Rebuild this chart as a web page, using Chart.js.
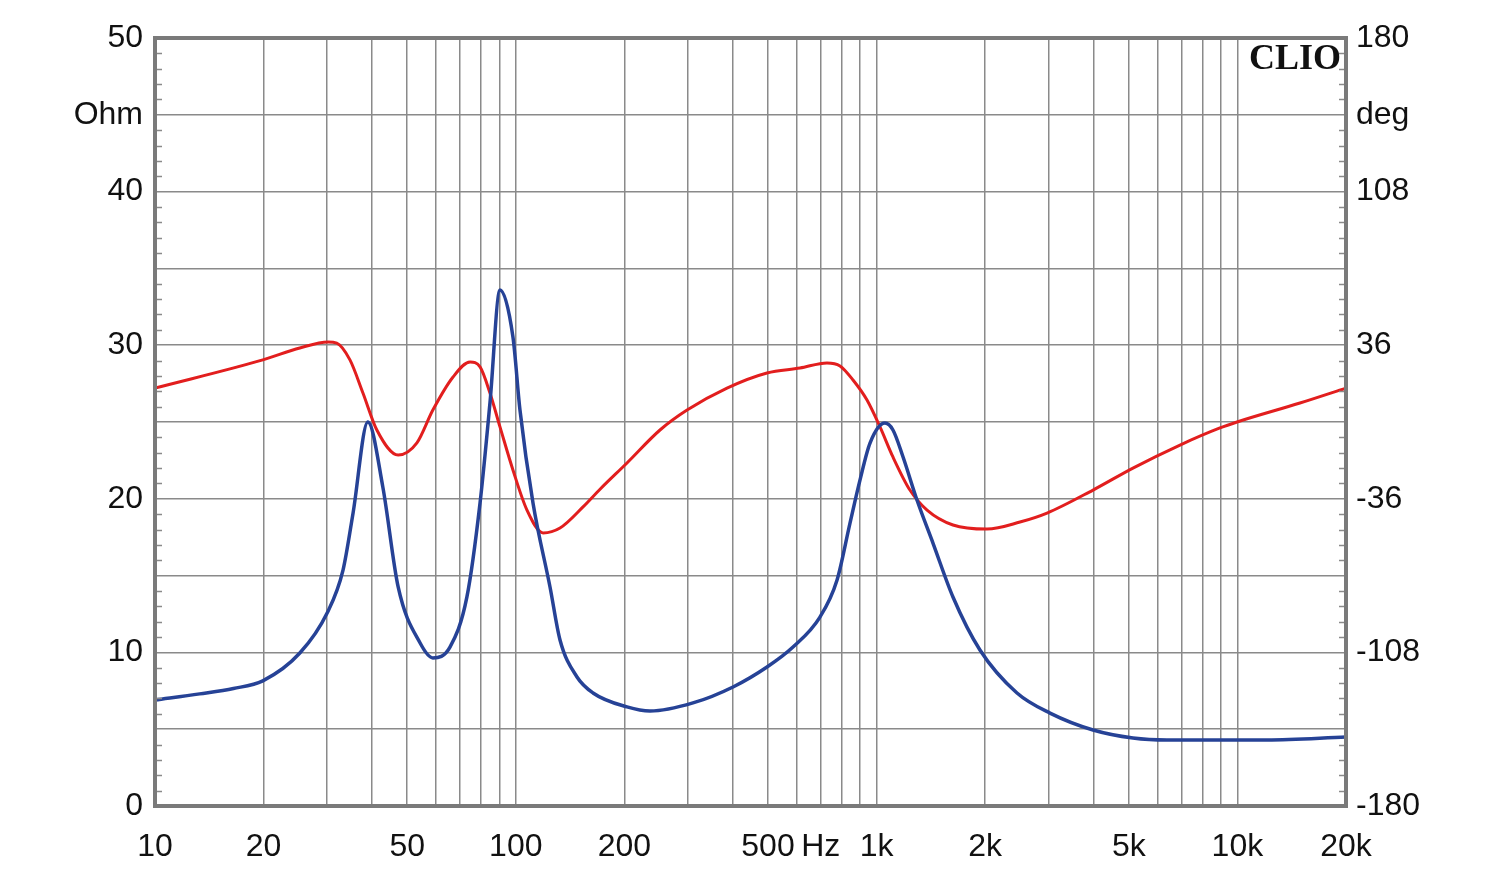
<!DOCTYPE html>
<html>
<head>
<meta charset="utf-8">
<script src="https://cdn.jsdelivr.net/npm/chart.js@4/dist/chart.umd.min.js"></script>
<style>
  html, body { margin: 0; padding: 0; background: #fff; }
  #wrap { width: 1500px; height: 886px; }
</style>
</head>
<body>
<div id="wrap"><canvas id="clio"></canvas></div>
<script>
// impedance curve (Hz, Ohm)
var impFreq = [10, 13.3, 16.5, 19.9, 25.2, 30.0, 33.2, 35.4, 38.9, 42.8, 47.2, 54.3, 58.9, 65.7, 73.2, 79.6, 84.8, 90.4, 98.2, 102.7, 111.6, 124.4, 132.6, 147.8, 163.7, 203.3, 235.5, 309.8, 400, 496.9, 586.6, 696.7, 776.6, 843.9, 899.4, 958.9, 1055, 1110, 1184, 1294, 1433, 1628, 1934, 2450, 3024, 3980, 5135, 6380, 12080, 20000];
var impOhm  = [6.90, 7.30, 7.65, 8.15, 9.96, 12.57, 15.36, 19.08, 25.0, 20.77, 14.26, 10.61, 9.64, 10.35, 13.61, 19.73, 26.24, 33.59, 30.53, 25.78, 19.73, 14.26, 10.81, 8.40, 7.36, 6.45, 6.18, 6.71, 7.75, 9.05, 10.35, 12.30, 14.70, 18.42, 21.22, 23.63, 24.93, 24.48, 22.72, 19.92, 17.12, 13.61, 10.16, 7.36, 6.05, 4.95, 4.43, 4.30, 4.30, 4.49];

// phase curve (Hz, deg)
var phFreq = [10, 19.9, 25.2, 30.2, 31.9, 34.7, 37.7, 41.2, 47.2, 53.2, 58.9, 67.0, 74.7, 79.6, 84.8, 90.4, 98.2, 107.4, 119, 132.6, 153.6, 171.2, 203.3, 251, 298.3, 384.9, 496.9, 613.4, 728.6, 791.7, 860.3, 940.6, 1022, 1110, 1237, 1380, 1628, 2023, 2497, 2967, 3980, 5135, 6933, 8948, 9977, 14910, 20000];
var phDeg  = [15.9, 29.1, 34.7, 37.5, 37.0, 29.1, 13.6, -3.75, -15.5, -9.8, 5.6, 21.1, 28.1, 25.8, 13.6, -2.3, -22.5, -41.3, -52.0, -49.7, -39.8, -31.5, -19.2, -3.75, 5.6, 15.9, 23.0, 25.3, 27.7, 26.3, 19.7, 10.3, -2.3, -16.4, -31.9, -41.3, -48.3, -50.2, -46.9, -42.7, -31.9, -21.6, -10.8, -2.8, 0.0, 8.9, 15.9];

// axis ticks
var gridFreqs = [10, 20, 30, 40, 50, 60, 70, 80, 90, 100, 200, 300, 400, 500, 600, 700, 800, 900, 1000, 2000, 3000, 4000, 5000, 6000, 7000, 8000, 9000, 10000, 20000];
var freqLabelAt = [10, 20, 50, 100, 200, 500, 700, 1000, 2000, 5000, 10000, 20000];
var freqLabelText = ['10', '20', '50', '100', '200', '500', 'Hz', '1k', '2k', '5k', '10k', '20k'];
var ohmLabelAt = [0, 10, 20, 30, 40, 45, 50];
var ohmLabelText = ['0', '10', '20', '30', '40', 'Ohm', '50'];
var degLabelAt = [-180, -108, -36, 36, 108, 144, 180];
var degLabelText = ['-180', '-108', '-36', '36', '108', 'deg', '180'];

function pairs(xs, ys) {
  return xs.map(function (x, i) { return { x: x, y: ys[i] }; });
}
function lookup(at, text, v) {
  for (var i = 0; i < at.length; i++) {
    if (Math.abs(at[i] - v) < 1e-6) return text[i];
  }
  return '';
}

var gridColor = '#8a8a8a';
var tickFont = { family: '"Liberation Sans", Arial, sans-serif', size: 32 };

var framePlugin = {
  id: 'frame',
  afterDraw: function (chart) {
    var ctx = chart.ctx, a = chart.chartArea, y = chart.scales.y;
    ctx.save();
    ctx.strokeStyle = gridColor;
    ctx.lineWidth = 1.5;
    for (var v = 1; v < 50; v++) {
      if (v % 5 === 0) continue;
      var py = Math.round(y.getPixelForValue(v)) + 0.5;
      ctx.beginPath();
      ctx.moveTo(a.left, py); ctx.lineTo(a.left + 7, py);
      ctx.moveTo(a.right - 7, py); ctx.lineTo(a.right, py);
      ctx.stroke();
    }
    ctx.strokeStyle = '#7a7a7a';
    ctx.lineWidth = 4;
    ctx.strokeRect(a.left, a.top, a.right - a.left, a.bottom - a.top);
    ctx.fillStyle = '#111';
    ctx.font = 'bold 36px "Liberation Serif", "DejaVu Serif", serif';
    ctx.textAlign = 'right';
    ctx.textBaseline = 'alphabetic';
    ctx.fillText('CLIO', a.right - 5, a.top + 31);
    ctx.restore();
  }
};

new Chart(document.getElementById('clio'), {
  type: 'scatter',
  data: {
    datasets: [
      {
        label: 'Impedance',
        data: pairs(impFreq, impOhm),
        yAxisID: 'y',
        showLine: true,
        borderColor: 'rgb(38, 66, 150)',
        borderWidth: 3.5,
        pointRadius: 0,
        cubicInterpolationMode: 'monotone'
      },
      {
        label: 'Phase',
        data: pairs(phFreq, phDeg),
        yAxisID: 'y2',
        showLine: true,
        borderColor: 'rgb(226, 30, 30)',
        borderWidth: 3,
        pointRadius: 0,
        cubicInterpolationMode: 'monotone'
      }
    ]
  },
  options: {
    responsive: true,
    maintainAspectRatio: false,
    animation: false,
    layout: { padding: { top: 38, left: 0, right: 0, bottom: 0 } },
    plugins: { legend: { display: false }, tooltip: { enabled: false } },
    scales: {
      x: {
        type: 'logarithmic',
        min: 10,
        max: 20000,
        afterBuildTicks: function (scale) {
          scale.ticks = gridFreqs.map(function (v) { return { value: v }; });
        },
        afterFit: function (scale) { scale.height = 80; },
        grid: { color: gridColor, lineWidth: 1.5, drawTicks: false },
        border: { display: false },
        ticks: {
          autoSkip: false,
          maxRotation: 0,
          padding: 22,
          color: '#111',
          font: tickFont,
          callback: function (v) { return lookup(freqLabelAt, freqLabelText, v); }
        }
      },
      y: {
        position: 'left',
        min: 0,
        max: 50,
        afterFit: function (scale) { scale.width = 155; },
        grid: { color: gridColor, lineWidth: 1.5, drawTicks: false },
        border: { display: false },
        ticks: {
          stepSize: 5,
          padding: 12,
          color: '#111',
          font: tickFont,
          callback: function (v) { return lookup(ohmLabelAt, ohmLabelText, v); }
        }
      },
      y2: {
        position: 'right',
        min: -180,
        max: 180,
        afterFit: function (scale) { scale.width = 154; },
        grid: { display: false, drawTicks: false },
        border: { display: false },
        ticks: {
          stepSize: 36,
          padding: 10,
          color: '#111',
          font: tickFont,
          callback: function (v) { return lookup(degLabelAt, degLabelText, v); }
        }
      }
    }
  },
  plugins: [framePlugin]
});
</script>
</body>
</html>
